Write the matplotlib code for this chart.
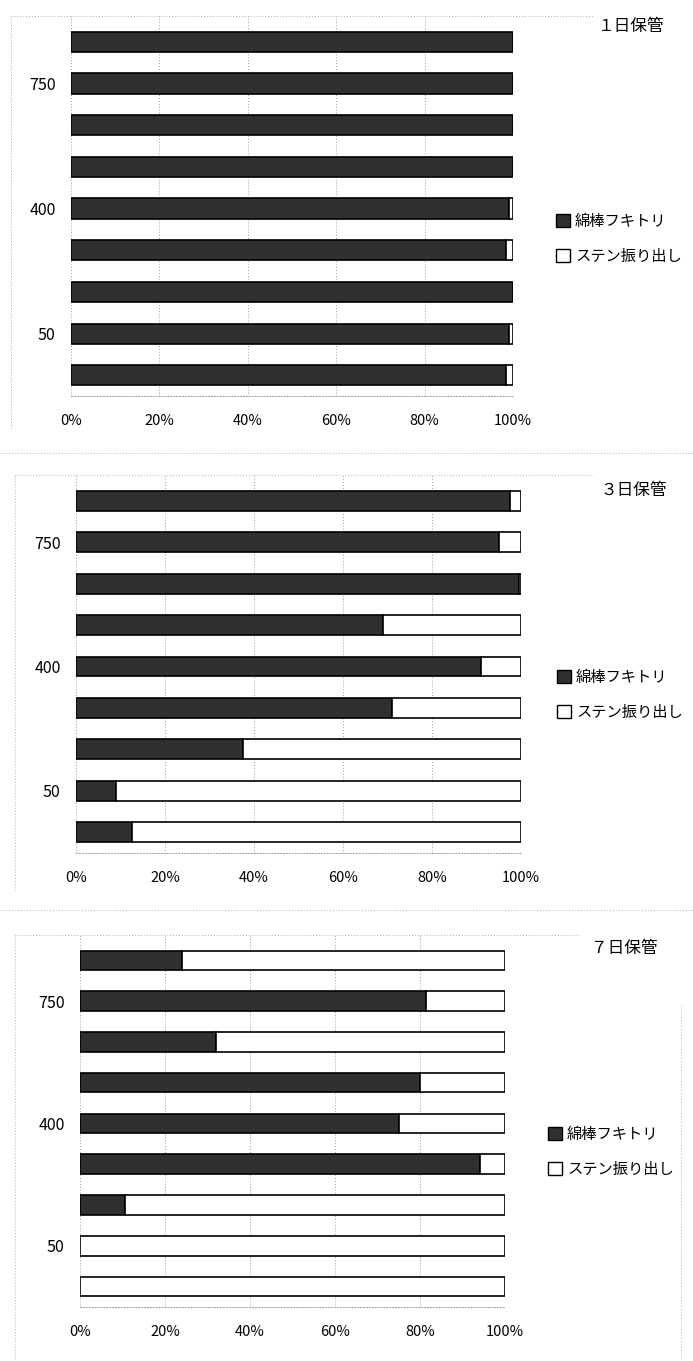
import matplotlib
matplotlib.use("Agg")
import matplotlib.pyplot as plt
from matplotlib.lines import Line2D
from matplotlib.patches import Patch

plt.rcParams["font.family"] = ["Liberation Sans Narrow", "Noto Sans CJK JP", "DejaVu Sans"]

W, H = 693, 1361

# rows listed top to bottom
categories = ["", "750", "", "", "400", "", "", "50", ""]
series_names = ["綿棒フキトリ", "ステン振り出し"]
titles = ["１日保管", "３日保管", "７日保管"]
wipe_1day = [100, 100, 100, 100, 99, 98.5, 100, 99, 98.5]
wipe_3day = [97.5, 95, 99.5, 69, 91, 71, 37.5, 9, 12.5]
wipe_7day = [24, 81.5, 32, 80, 75, 94, 10.5, 0, 0]
xticks = [0, 20, 40, 60, 80, 100]
xtick_labels = ["0%", "20%", "40%", "60%", "80%", "100%"]

DARK = "#303030"
GRID = "#9a9a9a"


def px_rect(left, top, right, bottom):
    return [left / W, 1 - bottom / H, (right - left) / W, (bottom - top) / H]


def fig_line(fig, xs, ys):
    fig.add_artist(Line2D([x / W for x in xs], [1 - y / H for y in ys],
                          color="#b0b0b0", lw=0.7, ls=(0, (1, 2))))


def draw_panel(fig, rect, wipe, title, title_xy, legend_xy):
    ax = fig.add_axes(px_rect(*rect))
    n = len(categories)
    ypos = [n - 1 - i for i in range(n)]
    rest = [100 - v for v in wipe]
    ax.barh(ypos, wipe, height=0.48, color=DARK, edgecolor="black", lw=1.2,
            label=series_names[0], zorder=3)
    ax.barh(ypos, rest, left=wipe, height=0.48, color="white", edgecolor="black",
            lw=1.2, label=series_names[1], zorder=3)
    ax.set_xlim(0, 100)
    ax.set_ylim(-0.5, 8.62)
    ax.set_xticks(xticks)
    ax.set_xticklabels(xtick_labels, fontsize=10.5)
    ax.set_yticks(ypos)
    ax.set_yticklabels(categories, fontsize=11.5)
    ax.tick_params(length=0)
    ax.tick_params(axis="x", pad=13)
    ax.tick_params(axis="y", pad=11)
    for x in xticks:
        ax.axvline(x, color=GRID, lw=0.7, ls=(0, (1, 2)), zorder=1)
    for side in ["top", "right", "left"]:
        ax.spines[side].set_visible(False)
    ax.spines["bottom"].set_color(GRID)
    ax.spines["bottom"].set_linestyle((0, (1, 2)))
    ax.spines["bottom"].set_linewidth(0.7)

    fig.text(title_xy[0] / W, 1 - title_xy[1] / H, title, fontsize=12,
             ha="left", va="center", family=["Noto Sans CJK JP", "DejaVu Sans"])

    handles = [Patch(facecolor=DARK, edgecolor="black", lw=1.0),
               Patch(facecolor="white", edgecolor="black", lw=1.0)]
    fig.legend(handles, series_names, loc="upper left",
               bbox_to_anchor=(legend_xy[0] / W, 1 - legend_xy[1] / H),
               frameon=False, borderpad=0, borderaxespad=0,
               handlelength=0.9, handleheight=0.9, handletextpad=0.35,
               labelspacing=1.15, prop={"family": "Noto Sans CJK JP", "size": 11})
    return ax


fig = plt.figure(figsize=(W / 100, H / 100), dpi=100)

# chart frames and separators
fig_line(fig, [11, 593], [16, 16])
fig_line(fig, [11, 11], [16, 430])
fig_line(fig, [0, 693], [453, 453])
fig_line(fig, [15, 593], [475, 475])
fig_line(fig, [15, 15], [475, 890])
fig_line(fig, [0, 693], [910, 910])
fig_line(fig, [15, 580], [935, 935])
fig_line(fig, [15, 15], [935, 1361])
fig_line(fig, [681, 681], [1005, 1361])

draw_panel(fig, (71, 16, 513, 396), wipe_1day, titles[0], (598, 26), (556, 213))
draw_panel(fig, (76, 475, 521, 853), wipe_3day, titles[1], (600, 490), (557, 669))
draw_panel(fig, (80, 935, 505, 1307), wipe_7day, titles[2], (591, 948), (548, 1126))

fig.savefig("out.png", dpi=100)
